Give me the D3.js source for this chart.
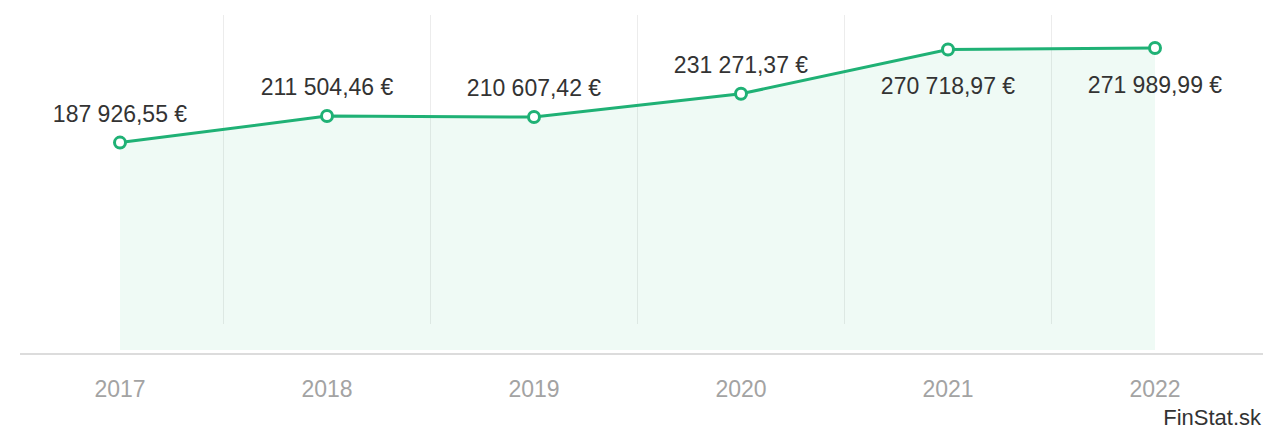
<!DOCTYPE html>
<html>
<head>
<meta charset="utf-8">
<script src="https://cdn.jsdelivr.net/npm/d3@7"></script>
<style>
  html, body { margin: 0; padding: 0; background: #fff; }
  svg { display: block; font-family: "Liberation Sans", Arial, sans-serif; }
</style>
</head>
<body>
<svg></svg>
<script>
const years = ["2017", "2018", "2019", "2020", "2021", "2022"];
const values = [187926.55, 211504.46, 210607.42, 231271.37, 270718.97, 271989.99];
const labels = ["187 926,55 €", "211 504,46 €", "210 607,42 €", "231 271,37 €", "270 718,97 €", "271 989,99 €"];
const labelBelow = [false, false, false, false, true, true];

const width = 1263;
const height = 432;
const baseY = 354;

const data = years.map((y, i) => ({ year: y, value: values[i], label: labels[i], below: labelBelow[i] }));

const svg = d3.select("svg")
    .attr("width", width)
    .attr("height", height);

const xScale = d3.scaleBand()
    .domain(years)
    .range([16.5, 1258.5]);

const yScale = d3.scaleLinear()
    .domain([0, 300000])
    .range([baseY, 16.5]);

const cx = d => xScale(d.year) + xScale.bandwidth() / 2;

// faint band separators
svg.append("g")
    .selectAll("line")
    .data(years.slice(1))
    .enter()
    .append("line")
    .attr("x1", d => xScale(d))
    .attr("x2", d => xScale(d))
    .attr("y1", 15)
    .attr("y2", baseY - 30)
    .attr("stroke", "#ececec")
    .attr("stroke-width", 1);

// area under the line
const area = d3.area()
    .x(cx)
    .y0(baseY - 4)
    .y1(d => yScale(d.value));

svg.append("path")
    .datum(data)
    .attr("d", area)
    .attr("fill", "#22b373")
    .attr("fill-opacity", 0.07);

// baseline
svg.append("line")
    .attr("x1", 20)
    .attr("x2", width)
    .attr("y1", baseY)
    .attr("y2", baseY)
    .attr("stroke", "#dcdcdc")
    .attr("stroke-width", 2);

// x labels
svg.append("g")
    .selectAll("text")
    .data(data)
    .enter()
    .append("text")
    .attr("x", cx)
    .attr("y", 397)
    .attr("text-anchor", "middle")
    .attr("font-size", "23px")
    .attr("fill", "#a3a3a3")
    .text(d => d.year);

// line
const line = d3.line()
    .x(cx)
    .y(d => yScale(d.value));

svg.append("path")
    .datum(data)
    .attr("d", line)
    .attr("fill", "none")
    .attr("stroke", "#1fb175")
    .attr("stroke-width", 3);

svg.append("g")
    .selectAll("circle")
    .data(data)
    .enter()
    .append("circle")
    .attr("cx", cx)
    .attr("cy", d => yScale(d.value))
    .attr("r", 5.5)
    .attr("fill", "#fff")
    .attr("stroke", "#1fb175")
    .attr("stroke-width", 3);

// value labels
svg.append("g")
    .selectAll("text")
    .data(data)
    .enter()
    .append("text")
    .attr("x", cx)
    .attr("y", d => d.below ? yScale(d.value) + 45 : yScale(d.value) - 21)
    .attr("text-anchor", "middle")
    .attr("font-size", "23px")
    .attr("fill", "#333")
    .text(d => d.label);

svg.append("text")
    .attr("x", 1261)
    .attr("y", 425)
    .attr("text-anchor", "end")
    .attr("font-size", "22px")
    .attr("fill", "#333")
    .text("FinStat.sk");
</script>
</body>
</html>
